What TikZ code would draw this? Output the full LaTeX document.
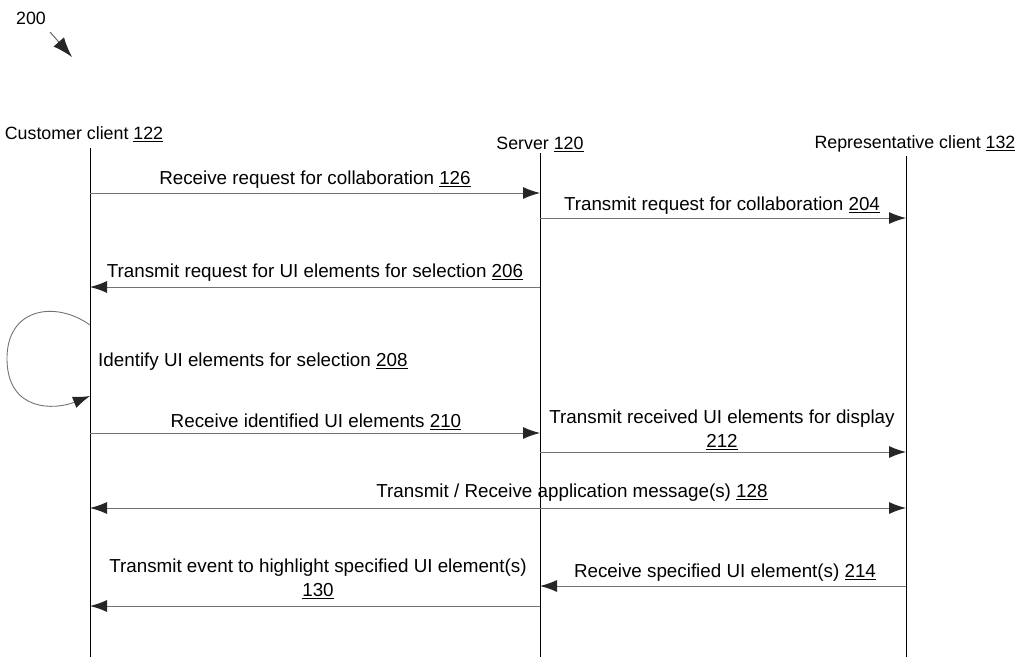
\documentclass[tikz,border=0pt]{standalone}
\usepackage{fontspec}
\setmainfont{Liberation Sans}
\usetikzlibrary{arrows.meta}
\tikzset{
  lbl/.style={font=\fontsize{18.8}{23}\selectfont, inner sep=0pt, align=center},
  hdr/.style={font=\fontsize{17.8}{22}\selectfont, inner sep=0pt},
  life/.style={draw=black, line width=0.7pt},
  tip/.tip={Latex[length=17pt,width=12pt,color=black!85]},
  bigtip/.tip={Latex[length=20pt,width=14pt,color=black!85]},
  msg/.style={draw=black!55, line width=0.9pt, -tip},
  msgboth/.style={draw=black!55, line width=0.9pt, tip-tip},
}
\begin{document}
\begin{tikzpicture}[x=1pt,y=-1pt]
\useasboundingbox (0,0) rectangle (1021,657);
% figure number
\node[hdr] (fig) at (31,18) {200};
\coordinate (figA) at (50,32);
\coordinate (figB) at (72,57);
\draw[draw=black!60, line width=1pt, -bigtip] (figA) -- (figB);
% headers
\node[hdr] (hc) at (84,134) {Customer client \underline{122}};
\node[hdr] (hs) at (540,144) {Server \underline{120}};
\node[hdr] (hr) at (915,144) {Representative client \underline{132}};
% lifelines
\coordinate (cT) at (90,148); \coordinate (cB) at (90,657);
\coordinate (sT) at (540,153); \coordinate (sB) at (540,657);
\coordinate (rT) at (906,156); \coordinate (rB) at (906,657);
\draw[life] (cT) -- (cB);
\draw[life] (sT) -- (sB);
\draw[life] (rT) -- (rB);
% message end points
\coordinate (c1) at (90,193); \coordinate (s1) at (540,193);
\coordinate (s2) at (540,218); \coordinate (r2) at (906,218);
\coordinate (s3) at (540,287); \coordinate (c3) at (90,287);
\coordinate (c4a) at (90,325); \coordinate (c4b) at (90,396);
\coordinate (c5) at (90,433); \coordinate (s5) at (540,433);
\coordinate (s6) at (540,452); \coordinate (r6) at (906,452);
\coordinate (c7) at (90,508); \coordinate (r7) at (906,508);
\coordinate (r8) at (906,586); \coordinate (s8) at (540,586);
\coordinate (s9) at (540,606); \coordinate (c9) at (90,606);
% messages
\draw[msg] (c1) -- (s1);
\node[lbl] (m1) at (315,180) {Receive request for collaboration \underline{126}};
\draw[msg] (s2) -- (r2);
\node[lbl] (m2) at (722,206) {Transmit request for collaboration \underline{204}};
\draw[msg] (s3) -- (c3);
\node[lbl] (m3) at (315,273) {Transmit request for UI elements for selection \underline{206}};
\draw[msg] (c4a) .. controls (55,300) and (6,308) .. (7,360) .. controls (8,412) and (55,410) .. (c4b);
\node[lbl, anchor=west] (m4) at (98,362) {Identify UI elements for selection \underline{208}};
\draw[msg] (c5) -- (s5);
\node[lbl] (m5) at (316,422) {Receive identified UI elements \underline{210}};
\draw[msg] (s6) -- (r6);
\node[lbl] (m6) at (722,430) {Transmit received UI elements for display\\[1pt]\underline{212}};
\draw[msgboth] (c7) -- (r7);
\node[lbl] (m7) at (572,493) {Transmit / Receive application message(s) \underline{128}};
\draw[msg] (r8) -- (s8);
\node[lbl] (m8) at (725,573) {Receive specified UI element(s) \underline{214}};
\draw[msg] (s9) -- (c9);
\node[lbl] (m9) at (318,579) {Transmit event to highlight specified UI element(s)\\[1pt]\underline{130}};
\end{tikzpicture}
\end{document}
